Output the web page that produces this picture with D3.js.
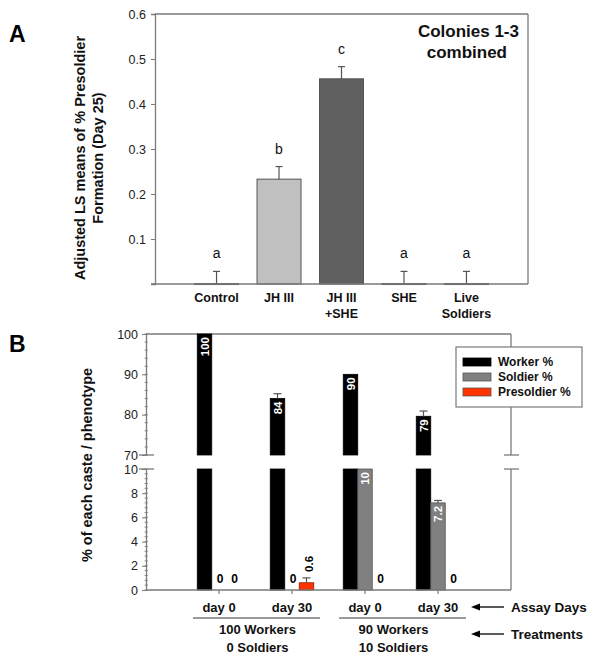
<!DOCTYPE html>
<html><head><meta charset="utf-8">
<script src="https://cdn.jsdelivr.net/npm/d3@7"></script>
<style>body{margin:0;background:#fff}svg{font-family:"Liberation Sans",Arial,sans-serif}</style>
</head><body><svg id="c" width="600" height="660"></svg>
<script>
// ---------- Panel A data ----------
const catsA = ["Control", "JH III", "JH III|+SHE", "SHE", "Live|Soldiers"];
const meansA = [0.001, 0.233, 0.456, 0.001, 0.001];
const errA = [0.027, 0.028, 0.027, 0.027, 0.027];
const lettersA = ["a", "b", "c", "a", "a"];
const fillsA = ["#c0c0c0", "#c0c0c0", "#606060", "#c0c0c0", "#c0c0c0"];
const ticksA = [0.1, 0.2, 0.3, 0.4, 0.5, 0.6];

// ---------- Panel B data ----------
const daysB = ["day 0", "day 30", "day 0", "day 30"];
const treatmentsB = [["100 Workers", "0 Soldiers"], ["90 Workers", "10 Soldiers"]];
const workerB = [100, 84, 90, 79.6];
const workerErrB = [0, 1.2, 0, 1.3];
const soldierB = [0, 0, 10, 7.2];
const soldierErrB = [0, 0, 0, 0.2];
const presoldierB = [0, 0.6, 0, 0];
const presoldierErrB = [0, 0.4, 0, 0];
const workerLbl = ["100", "84", "90", "79"];
const soldierLbl = ["0", "0", "10", "7.2"];
const presoldierLbl = ["0", "0.6", "0", "0"];
const seriesNames = ["Worker %", "Soldier %", "Presoldier %"];
const seriesColors = ["#000000", "#808080", "#ff3300"];
const ticksUpper = [70, 80, 90, 100];
const ticksLower = [0, 2, 4, 6, 8, 10];

const svg = d3.select("#c");
const AX = "#7a7a7a";

// ================= PANEL A =================
const xA = d3.scaleBand().domain(catsA).range([155, 528]).paddingInner(0.296).paddingOuter(0.633);
const yA = d3.scaleLinear().domain([0, 0.6]).range([284, 14]);
const gA = svg.append("g");

gA.append("text").attr("x", 9).attr("y", 42).attr("font-size", 23).attr("font-weight", "bold").text("A");

// frame
gA.append("line").attr("x1", 155).attr("x2", 528).attr("y1", yA(0.6)).attr("y2", yA(0.6)).attr("stroke", AX).attr("stroke-width", 1.3);
gA.append("line").attr("x1", 528).attr("x2", 528).attr("y1", yA(0.6)).attr("y2", yA(0)).attr("stroke", AX).attr("stroke-width", 1.3);

// bars
catsA.forEach((c, i) => {
  const x = xA(c), w = xA.bandwidth(), cx = x + w / 2;
  gA.append("rect").attr("x", x).attr("y", yA(meansA[i])).attr("width", w)
    .attr("height", Math.max(1, yA(0) - yA(meansA[i])))
    .attr("fill", fillsA[i]).attr("stroke", "#555").attr("stroke-width", 1);
  const top = yA(meansA[i] + errA[i]);
  gA.append("line").attr("x1", cx).attr("x2", cx).attr("y1", yA(meansA[i])).attr("y2", top).attr("stroke", "#555").attr("stroke-width", 1.2);
  gA.append("line").attr("x1", cx - 3.5).attr("x2", cx + 3.5).attr("y1", top).attr("y2", top).attr("stroke", "#555").attr("stroke-width", 1.2);
  gA.append("text").attr("x", cx).attr("y", top - 13).attr("text-anchor", "middle").attr("font-size", 14).attr("fill", "#111").text(lettersA[i]);
  const lines = c.split("|");
  lines.forEach((l, j) => {
    gA.append("text").attr("x", cx).attr("y", 302 + j * 16).attr("text-anchor", "middle")
      .attr("font-size", 12.5).attr("font-weight", "bold").attr("fill", "#111").text(l);
  });
});

// y axis
const axA = gA.append("g").attr("transform", "translate(155,0)")
  .call(d3.axisLeft(yA).tickValues(ticksA).tickSize(4).tickPadding(5).tickFormat(d3.format(".1f")));
axA.select(".domain").attr("stroke", AX).attr("stroke-width", 1.3);
axA.selectAll(".tick line").attr("stroke", AX);
axA.selectAll(".tick text").attr("font-size", 12.5).attr("fill", "#222").attr("font-family", "Liberation Sans, Arial");
// x baseline
gA.append("line").attr("x1", 151).attr("x2", 528).attr("y1", yA(0)).attr("y2", yA(0)).attr("stroke", AX).attr("stroke-width", 1.3);

// y title
const tA = gA.append("text").attr("transform", "translate(85,158) rotate(-90)").attr("text-anchor", "middle")
  .attr("font-size", 14.5).attr("font-weight", "bold").attr("fill", "#111");
tA.append("tspan").attr("x", 0).attr("y", 0).text("Adjusted LS means of % Presoldier");
tA.append("tspan").attr("x", 0).attr("y", 18).text("Formation (Day 25)");

// annotation
gA.append("text").attr("x", 519).attr("y", 37).attr("text-anchor", "end").attr("font-size", 17).attr("font-weight", "bold").attr("fill", "#111").text("Colonies 1-3");
gA.append("text").attr("x", 507).attr("y", 58).attr("text-anchor", "end").attr("font-size", 17).attr("font-weight", "bold").attr("fill", "#111").text("combined");

// ================= PANEL B =================
const gB = svg.append("g");
gB.append("text").attr("x", 9).attr("y", 352).attr("font-size", 23).attr("font-weight", "bold").text("B");

const L = 146, R = 511;
const xB = d3.scalePoint().domain(d3.range(daysB.length)).range([L, R]).padding(1);
const yU = d3.scaleLinear().domain([70, 100]).range([455, 334]);
const yL = d3.scaleLinear().domain([0, 10]).range([590, 469]);
const bw = 14.5;

// frame top & right with break
gB.append("line").attr("x1", L).attr("x2", R).attr("y1", yU(100)).attr("y2", yU(100)).attr("stroke", AX).attr("stroke-width", 1.3);
gB.append("line").attr("x1", R).attr("x2", R).attr("y1", yU(100)).attr("y2", yU(70)).attr("stroke", AX).attr("stroke-width", 1.3);
gB.append("line").attr("x1", R).attr("x2", R).attr("y1", yL(10)).attr("y2", yL(0)).attr("stroke", AX).attr("stroke-width", 1.3);
[yU(70), yL(10)].forEach(y => {
  gB.append("line").attr("x1", R - 7).attr("x2", R + 8).attr("y1", y).attr("y2", y).attr("stroke", AX).attr("stroke-width", 1.3);
});

// bars
const series = [
  { v: workerB, e: workerErrB, lbl: workerLbl, col: seriesColors[0] },
  { v: soldierB, e: soldierErrB, lbl: soldierLbl, col: seriesColors[1] },
  { v: presoldierB, e: presoldierErrB, lbl: presoldierLbl, col: seriesColors[2] }
];
daysB.forEach((d, i) => {
  const c = xB(i);
  series.forEach((s, k) => {
    const x = c + (k - 1) * bw - bw / 2;
    const v = s.v[i];
    const stroke = k === 0 ? "#000" : (k === 1 ? "#555" : "#8a2000");
    if (v > 0) {
      const lowTop = v > 10 ? 10 : v;
      gB.append("rect").attr("x", x).attr("y", yL(lowTop)).attr("width", bw).attr("height", yL(0) - yL(lowTop))
        .attr("fill", s.col).attr("stroke", stroke).attr("stroke-width", 0.8);
      if (v > 70) {
        gB.append("rect").attr("x", x).attr("y", yU(v)).attr("width", bw).attr("height", yU(70) - yU(v))
          .attr("fill", s.col).attr("stroke", stroke).attr("stroke-width", 0.8);
      }
    }
    // error bars
    const ys = v > 70 ? yU : yL;
    let topY = ys(v);
    if (s.e[i] > 0) {
      topY = ys(v + s.e[i]);
      gB.append("line").attr("x1", x + bw / 2).attr("x2", x + bw / 2).attr("y1", ys(v)).attr("y2", topY).attr("stroke", "#555").attr("stroke-width", 1.2);
      gB.append("line").attr("x1", x + bw / 2 - 4).attr("x2", x + bw / 2 + 4).attr("y1", topY).attr("y2", topY).attr("stroke", "#555").attr("stroke-width", 1.2);
    }
    // labels
    const cx = x + bw / 2;
    if (v >= 5) {
      gB.append("text").attr("transform", `translate(${cx},${ys(v) + 3}) rotate(-90)`)
        .attr("text-anchor", "end").attr("dy", "0.36em").attr("font-size", 11.5).attr("font-weight", "bold")
        .attr("fill", "#fff").text(s.lbl[i]);
    } else if (v > 0) {
      gB.append("text").attr("transform", `translate(${cx + 2},${topY - 6}) rotate(-90)`)
        .attr("text-anchor", "start").attr("dy", "0.36em").attr("font-size", 11.5).attr("font-weight", "bold")
        .attr("fill", "#000").text(s.lbl[i]);
    } else {
      gB.append("text").attr("x", cx + 1).attr("y", yL(0) - 7).attr("text-anchor", "middle")
        .attr("font-size", 12).attr("font-weight", "bold").attr("fill", "#000").text(s.lbl[i]);
    }
  });
  // x tick + label
  gB.append("line").attr("x1", c).attr("x2", c).attr("y1", yL(0)).attr("y2", yL(0) + 4).attr("stroke", AX).attr("stroke-width", 1.2);
  gB.append("text").attr("x", c).attr("y", 612).attr("text-anchor", "middle").attr("font-size", 13).attr("font-weight", "bold").attr("fill", "#111").text(d);
});

// left axes
function styleAxis(a) {
  a.select(".domain").attr("stroke", AX).attr("stroke-width", 1.3);
  a.selectAll(".tick line").attr("stroke", AX);
  a.selectAll(".tick text").attr("font-size", 12.5).attr("fill", "#222").attr("font-family", "Liberation Sans, Arial");
}
const minorU = d3.range(70, 100.01, 2);
const minorL = d3.range(0, 10.01, 0.4);
[[yU, minorU], [yL, minorL]].forEach(([sc, mn]) => {
  gB.append("g").selectAll("line").data(mn).join("line")
    .attr("x1", L - 1.5).attr("x2", L + 2).attr("y1", d => sc(d)).attr("y2", d => sc(d)).attr("stroke", AX).attr("stroke-width", 0.8);
});
const axU = gB.append("g").attr("transform", `translate(${L},0)`).call(d3.axisLeft(yU).tickValues(ticksUpper).tickSize(4).tickPadding(4).tickSizeOuter(0));
styleAxis(axU);
const axL = gB.append("g").attr("transform", `translate(${L},0)`).call(d3.axisLeft(yL).tickValues(ticksLower).tickSize(4).tickPadding(4).tickSizeOuter(0));
styleAxis(axL);
[yU(70), yL(10)].forEach(y => {
  gB.append("line").attr("x1", L - 7).attr("x2", L + 8).attr("y1", y).attr("y2", y).attr("stroke", AX).attr("stroke-width", 1.3);
});
gB.append("line").attr("x1", L).attr("x2", R).attr("y1", yL(0)).attr("y2", yL(0)).attr("stroke", AX).attr("stroke-width", 1.3);

// y title
gB.append("text").attr("transform", "translate(92,465) rotate(-90)").attr("text-anchor", "middle")
  .attr("font-size", 14.5).attr("font-weight", "bold").attr("fill", "#111").text("% of each caste / phenotype");

// legend
const lg = gB.append("g");
lg.append("rect").attr("x", 456).attr("y", 347).attr("width", 126).attr("height", 60).attr("fill", "#fff").attr("stroke", AX).attr("stroke-width", 1.2);
seriesNames.forEach((n, k) => {
  const y = 362 + k * 15;
  lg.append("rect").attr("x", 463).attr("y", y - 4).attr("width", 28).attr("height", 8).attr("fill", seriesColors[k]).attr("stroke", k === 0 ? "#000" : "#555").attr("stroke-width", 0.8);
  lg.append("text").attr("x", 498).attr("y", y + 4).attr("font-size", 12).attr("font-weight", "bold").attr("fill", "#111").text(n);
});

// treatment groups
treatmentsB.forEach((t, g) => {
  const a = xB(g * 2), b = xB(g * 2 + 1);
  gB.append("line").attr("x1", a - 26).attr("x2", b + 28).attr("y1", 618).attr("y2", 618).attr("stroke", AX).attr("stroke-width", 1.3);
  t.forEach((s, j) => {
    gB.append("text").attr("x", (a + b) / 2 - (g === 0 ? -2 : 8)).attr("y", 634 + j * 18).attr("text-anchor", "middle")
      .attr("font-size", 13).attr("font-weight", "bold").attr("fill", "#111").text(s);
  });
});

// arrows (head pointing left)
[["Assay Days", 607], ["Treatments", 634]].forEach(([t, y]) => {
  gB.append("line").attr("x1", 478).attr("x2", 504).attr("y1", y).attr("y2", y).attr("stroke", "#000").attr("stroke-width", 1.3);
  gB.append("path").attr("d", `M471,${y} L480,${y - 3.5} L480,${y + 3.5} Z`).attr("fill", "#000");
  gB.append("text").attr("x", 511).attr("y", y + 5).attr("font-size", 13.5).attr("font-weight", "bold").attr("fill", "#111").text(t);
});
</script></body></html>
